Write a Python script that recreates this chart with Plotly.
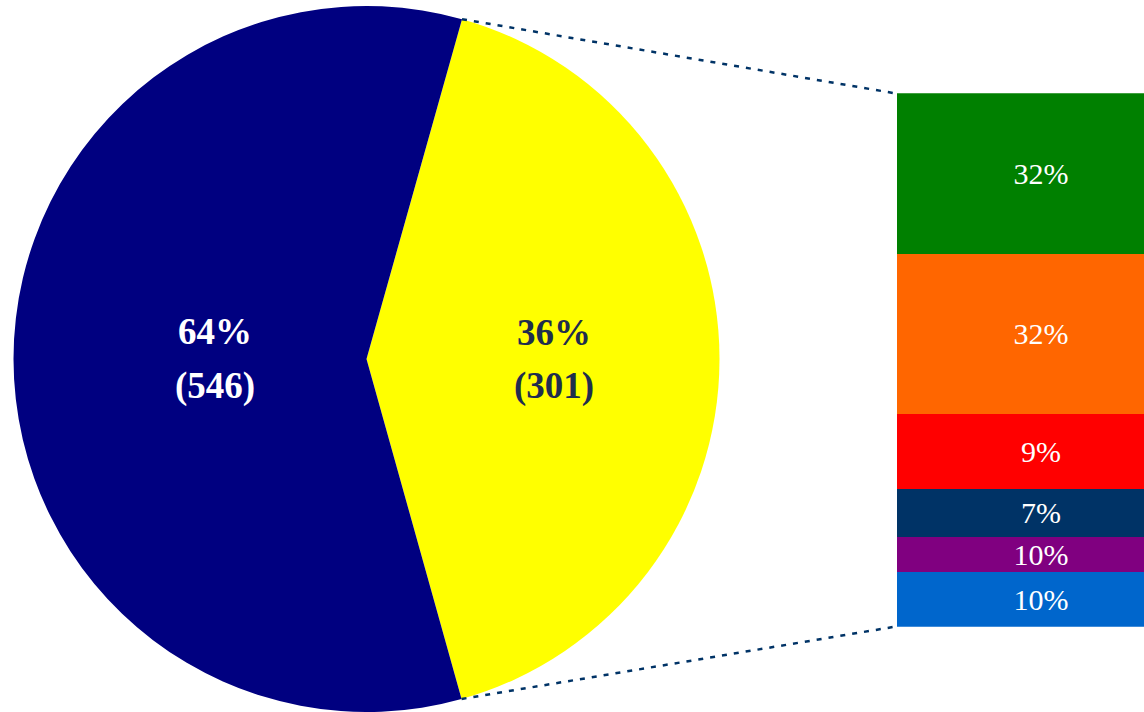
import numpy as np
import plotly.graph_objects as go

# ---- data ----
pie_labels = ["Yellow group", "Navy group"]
pie_shares = [41.3, 58.7]          # drawn angular shares
pie_pct = ["36%", "64%"]
pie_counts = ["(301)", "(546)"]
pie_colors = ["#FFFF00", "#000080"]
pie_text_colors = ["#1F2D4D", "#FFFFFF"]
pie_start_deg = 15.7               # yellow wedge starts here (clockwise from 12 o'clock)

bar_labels = ["Blue", "Purple", "Dark blue", "Red", "Orange", "Green"]   # bottom -> top
bar_heights = [10.3, 6.6, 8.9, 14.1, 30.0, 30.1]
bar_text = ["10%", "10%", "7%", "9%", "32%", "32%"]
bar_colors = ["#0066CC", "#800080", "#003366", "#FF0000", "#FF6600", "#008000"]

FONT = "Palatino Linotype, Book Antiqua, Palatino, Liberation Serif, serif"
W, H = 1144, 712
M_T, M_B = 6, 0
PH = H - M_T - M_B

# pie domain (pixels -> paper)
pie_cx_px, pie_r_px = 366.5, 353.0
pie_dom_x = [(pie_cx_px - pie_r_px) / W, (pie_cx_px + pie_r_px) / W]
label_r_frac = [0.53, 0.43]        # radial position of the wedge labels
label_gap_px = 27

# bar domain
bar_left_px = 897.0
bar_top_px, bar_bot_px = 93.3, 626.7
bar_dom_x = [bar_left_px / W, 1.0]
bar_dom_y = [1 - (bar_bot_px - M_T) / PH, 1 - (bar_top_px - M_T) / PH]

fig = go.Figure()
fig.add_trace(go.Pie(
    labels=pie_labels, values=pie_shares, textinfo="none",
    sort=False, direction="clockwise", rotation=pie_start_deg,
    marker=dict(colors=pie_colors, line=dict(width=0)),
    domain=dict(x=pie_dom_x, y=[0, 1]), showlegend=False,
))

for lab, h, t, c in zip(bar_labels, bar_heights, bar_text, bar_colors):
    fig.add_trace(go.Bar(
        x=[0], y=[h], name=lab, width=1, marker=dict(color=c, line=dict(width=0)),
        text=[t], textposition="inside", insidetextanchor="middle", constraintext="none",
        textfont=dict(family=FONT, size=30, color="white"),
        xaxis="x", yaxis="y", showlegend=False,
    ))

total = sum(bar_heights)
fig.update_layout(
    width=W, height=H, margin=dict(l=0, r=0, t=M_T, b=M_B),
    paper_bgcolor="white", plot_bgcolor="white", barmode="stack",
    xaxis=dict(domain=bar_dom_x, range=[-0.5, 0.357], visible=False, fixedrange=True),
    yaxis=dict(domain=bar_dom_y, range=[0, total], visible=False, fixedrange=True),
)

pie_cy_px = M_T + PH / 2
fracs = np.array(pie_shares) / sum(pie_shares)
starts = pie_start_deg + 360 * np.concatenate([[0], np.cumsum(fracs)[:-1]])
mids = starts + 180 * fracs

# wedge labels
for m, rf, pct, cnt, col in zip(mids, label_r_frac, pie_pct, pie_counts, pie_text_colors):
    a = np.deg2rad(m)
    lx = pie_cx_px + rf * pie_r_px * np.sin(a)
    ly = pie_cy_px - rf * pie_r_px * np.cos(a)
    for txt, dy in [(pct, -label_gap_px), (cnt, label_gap_px)]:
        fig.add_annotation(x=lx / W, y=1 - (ly + dy - M_T) / PH, xref="paper", yref="paper",
                           text=f"<b>{txt}</b>", showarrow=False,
                           font=dict(family=FONT, size=37, color=col),
                           xanchor="center", yanchor="middle")

# connecting dotted lines from the yellow wedge edges to bar corners
angles = [np.deg2rad(pie_start_deg), np.deg2rad(pie_start_deg + 360 * fracs[0])]
targets = [bar_dom_y[1], bar_dom_y[0]]
for a, ty in zip(angles, targets):
    px = pie_cx_px + pie_r_px * np.sin(a)
    py = pie_cy_px - pie_r_px * np.cos(a)
    fig.add_shape(type="line", xref="paper", yref="paper",
                  x0=px / W, y0=1 - (py - M_T) / PH, x1=bar_dom_x[0] - 2 / W, y1=ty,
                  line=dict(color="#003366", width=2.5, dash="5px,7px"))

fig.write_html("out.html", config={"displayModeBar": False},
               post_script="document.body.style.margin='0';")
